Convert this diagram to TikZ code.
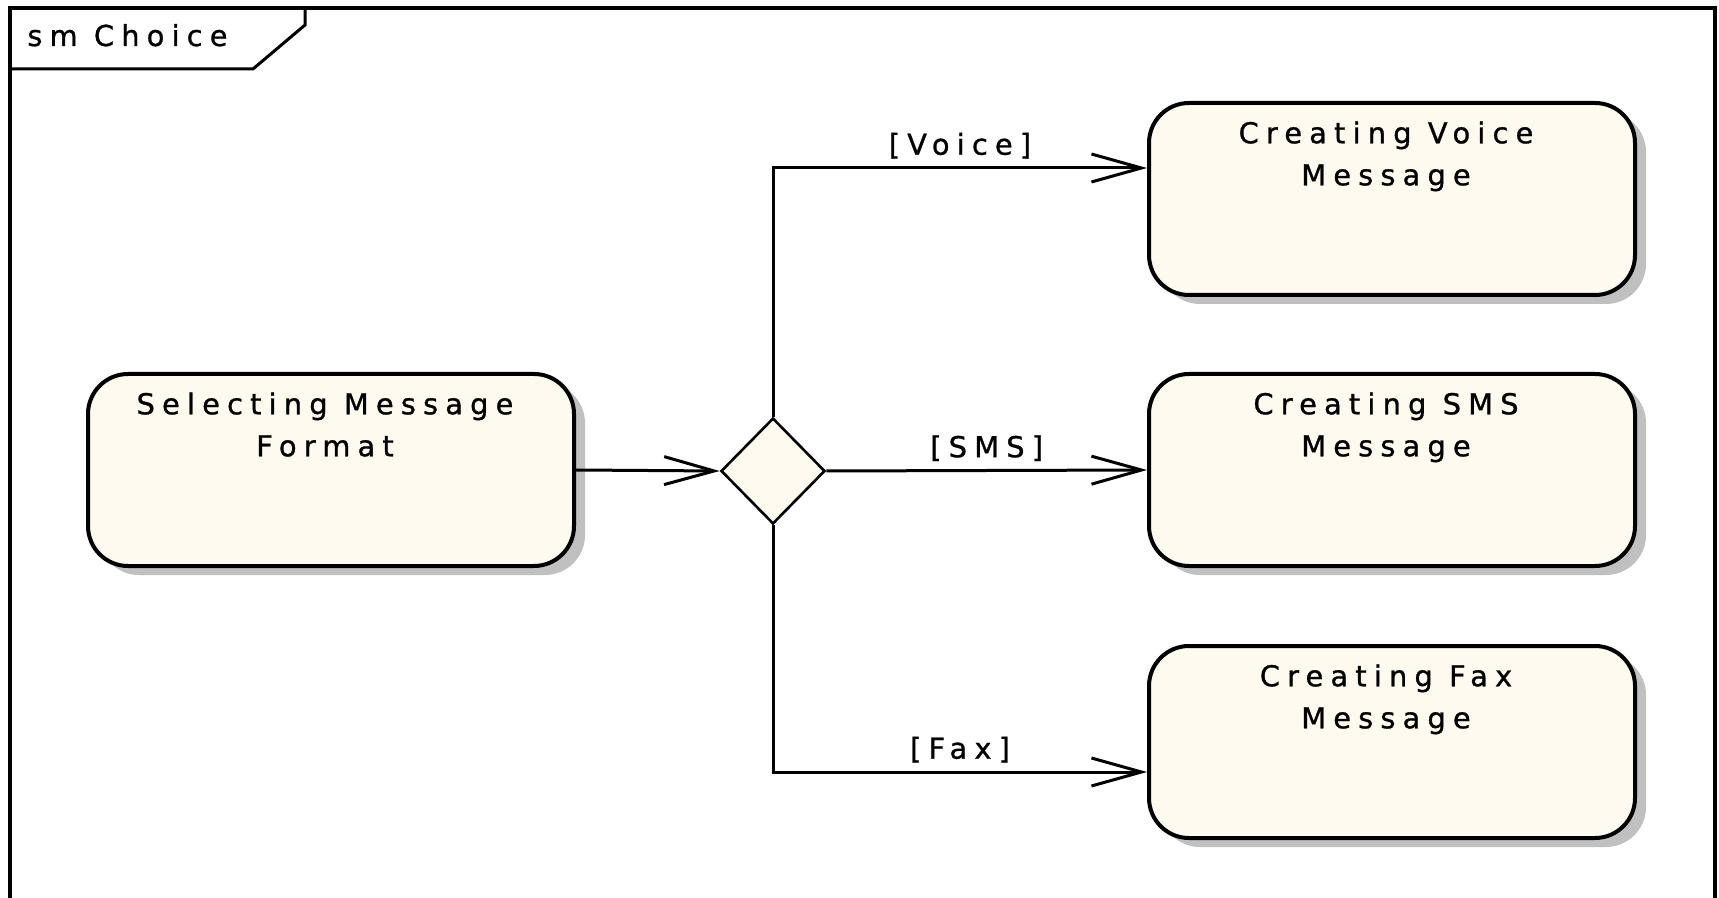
\documentclass[tikz,border=0pt]{standalone}
\usepackage{fontspec}
\setmainfont[LetterSpace=25,FakeBold=1]{DejaVu Sans}
\usetikzlibrary{arrows.meta,shapes.geometric,shadows}
\definecolor{statefill}{HTML}{FFFAF0}
\definecolor{shadowgray}{HTML}{C0C0C0}
\newcommand\umlfont{\fontsize{14.4}{21}\selectfont}
\begin{document}
\begin{tikzpicture}[x=0.5pt,y=-0.5pt,
  state/.style={draw, line width=2pt, fill=statefill, rounded corners=20pt,
    minimum width=243pt, minimum height=96pt, inner sep=0pt,
    general shadow={fill=shadowgray, shadow xshift=5.5pt, shadow yshift=-4.5pt}},
  statetext/.style={anchor=north, align=center, inner sep=0pt, yshift=-10pt, xshift=-3pt, font=\umlfont},
  choice/.style={diamond, draw, line width=1.3pt, fill=statefill,
    minimum width=52pt, minimum height=53pt, inner sep=0pt},
  flow/.style={line width=1.5pt, -{Straight Barb[length=25pt,width=14pt]}},
  guard/.style={above=4pt, inner sep=0pt, font=\umlfont},
  frameline/.style={line width=2pt},
]
\useasboundingbox (0,0) rectangle (1719,898);
\clip (0,0) rectangle (1719,898);

% diagram frame with its name tab
\draw[frameline] (10,920) -- (10,8) -- (1715,8) -- (1715,920);
\draw[line width=1.5pt] (10,69) -- (253,69) -- (305,25) -- (305,8);
\node[anchor=base west, inner sep=0pt, font=\umlfont] (title) at (27,46) {sm Choice};

% states
\node[state, label={[statetext]north:{Selecting Message\\Format}}] (sel) at (331,470) {};
\node[state, label={[statetext]north:{Creating Voice\\Message}}] (voice) at (1392,199) {};
\node[state, label={[statetext]north:{Creating SMS\\Message}}] (sms) at (1392,470) {};
\node[state, label={[statetext]north:{Creating Fax\\Message}}] (fax) at (1392,742) {};

% choice pseudostate
\node[choice] (dec) at (773,471) {};

% transitions
\coordinate (vin) at ([yshift=15.5pt]voice.west);
\coordinate (fin) at ([yshift=-15pt]fax.west);
\draw[flow] (sel.east) -- (dec.west);
\draw[flow] (dec.north) |- (vin) node[guard, pos=0.75] {[Voice]};
\draw[flow] (dec.east) -- (sms.west) node[guard, midway] {[SMS]};
\draw[flow] (dec.south) |- (fin) node[guard, pos=0.75] {[Fax]};
\end{tikzpicture}
\end{document}
